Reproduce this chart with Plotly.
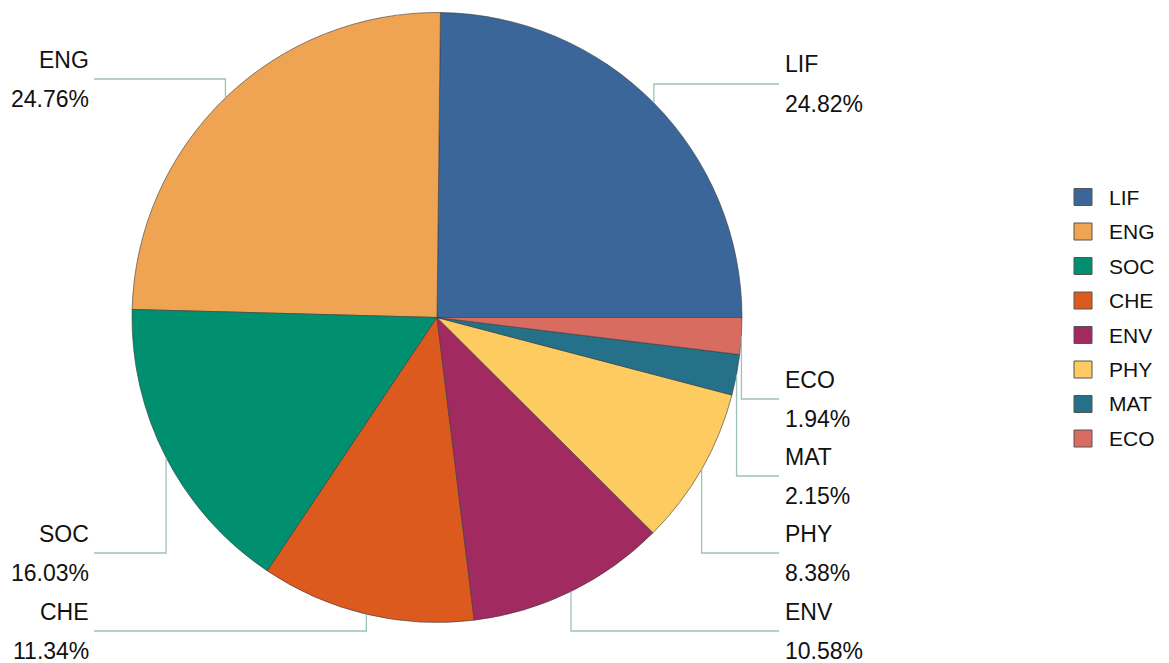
import math
import plotly.graph_objects as go

# ---- data ----
categories = ["LIF", "ENG", "SOC", "CHE", "ENV", "PHY", "MAT", "ECO"]
shares = [24.82, 24.76, 16.03, 11.34, 10.58, 8.38, 2.15, 1.94]
colors = ["#3b6699", "#eea452", "#00906f", "#dc5a1e", "#a12b61", "#fdcb5f", "#25718a", "#d96c60"]

# ---- layout (pixels) ----
W, H = 1169, 663
cx, cy, R = 437.0, 317.5, 305.0
# vertical level (px from top) of each label's horizontal leader segment
label_levels = [84, 79, 553, 631, 631, 553, 476, 399]
right_text_x, left_text_x = 783, 91
right_line_end, left_line_end = 779, 94
line_color = "#9dc2b8"
font_family = "Liberation Sans, Arial, sans-serif"

def px(x):
    return x / W

def py(y):
    return 1 - y / H

total = sum(shares)
# first slice starts at 3 o'clock and runs counterclockwise
first_rotation = 90 - shares[0] / total * 360

fig = go.Figure()
fig.add_trace(go.Pie(
    labels=categories,
    values=shares,
    sort=False,
    direction="counterclockwise",
    rotation=first_rotation,
    textinfo="none",
    marker=dict(colors=colors, line=dict(color="#3a3a3a", width=0.6)),
    domain=dict(x=[px(cx - R), px(cx + R)], y=[py(cy + R), py(cy - R)]),
    showlegend=False,
    hovertemplate="%{label}: %{value:.2f}%<extra></extra>",
))

shapes = []
annotations = []
cum = 0.0
for name, v, lvl in zip(categories, shares, label_levels):
    mid = (cum + v / 2) / total * 2 * math.pi
    cum += v
    ex = cx + R * math.cos(mid)
    ey = cy - R * math.sin(mid)
    right = math.cos(mid) >= 0
    end_x = right_line_end if right else left_line_end
    shapes.append(dict(type="path", xref="paper", yref="paper",
                       path=f"M {px(ex)},{py(ey)} L {px(ex)},{py(lvl)} L {px(end_x)},{py(lvl)}",
                       line=dict(color=line_color, width=1.3)))
    tx = right_text_x if right else left_text_x
    anchor = "left" if right else "right"
    annotations.append(dict(x=px(tx), y=py(lvl - 19.5), xref="paper", yref="paper",
                            text=name, showarrow=False, xanchor=anchor, yanchor="middle",
                            font=dict(size=23, color="#111111", family=font_family)))
    annotations.append(dict(x=px(tx), y=py(lvl + 20), xref="paper", yref="paper",
                            text=f"{v:.2f}%", showarrow=False, xanchor=anchor, yanchor="middle",
                            font=dict(size=23, color="#111111", family=font_family)))

# ---- manual legend ----
leg_x0, leg_x1 = 1074, 1092
leg_y0, leg_step, leg_half = 197, 34.5, 8.5
for i, (name, col) in enumerate(zip(categories, colors)):
    yc = leg_y0 + i * leg_step
    shapes.append(dict(type="rect", xref="paper", yref="paper",
                       x0=px(leg_x0), x1=px(leg_x1), y0=py(yc + leg_half), y1=py(yc - leg_half),
                       fillcolor=col, line=dict(color="#555555", width=1)))
    annotations.append(dict(x=px(1107), y=py(yc), xref="paper", yref="paper",
                            text=name, showarrow=False, xanchor="left", yanchor="middle",
                            font=dict(size=21, color="#111111", family=font_family)))

fig.update_layout(
    width=W, height=H,
    margin=dict(l=0, r=0, t=0, b=0),
    paper_bgcolor="white", plot_bgcolor="white",
    shapes=shapes, annotations=annotations,
    showlegend=False,
)
fig.write_html("out.html",
               config={"displayModeBar": False},
               post_script="document.body.style.margin='0';document.body.style.overflow='hidden';")
